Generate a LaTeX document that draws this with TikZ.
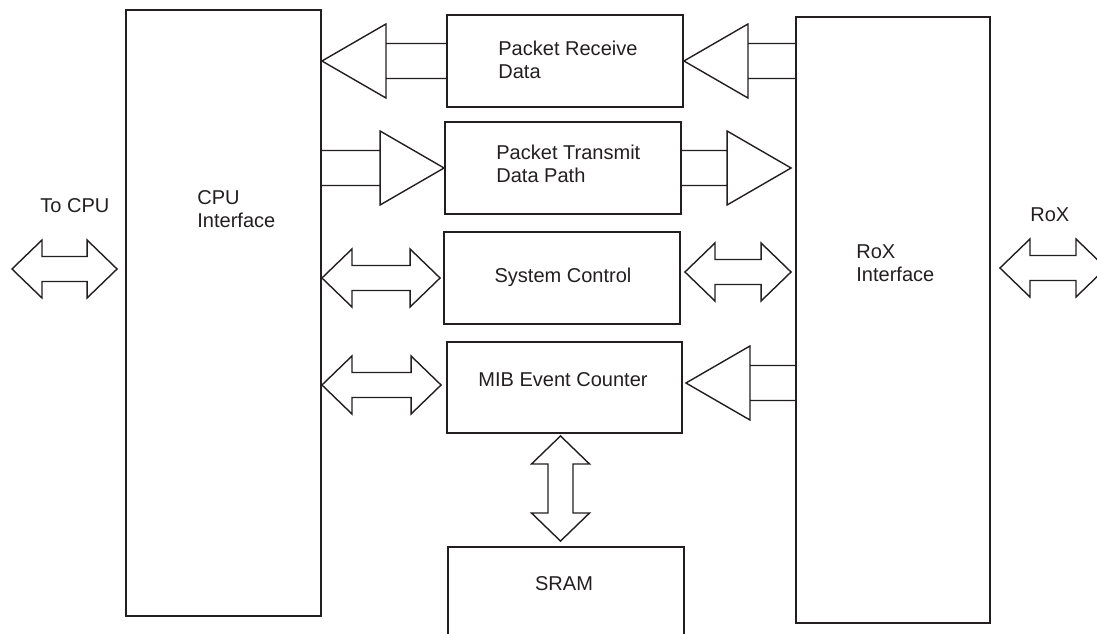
\documentclass[tikz,border=0pt]{standalone}
\usepackage{fontspec}
\setmainfont{Liberation Sans}
\usepackage{xcolor}
\definecolor{lineGray}{RGB}{35,31,32}
\usepackage{tikz}
\usetikzlibrary{positioning,calc}
\tikzstyle{blockbox}=[rectangle, draw=lineGray, line width=1.1pt, inner sep=0pt]
\tikzstyle{blocklabel}=[font=\fontsize{11.4pt}{13.1pt}\selectfont, text=lineGray, align=left, inner sep=0pt]
\tikzstyle{buffer}=[draw=lineGray, line width=0.8pt]
\tikzstyle{bus}=[draw=lineGray, line width=0.8pt]

% buffer com a ponta em #1, linhas ate a borda #2
\newcommand{\bufL}[2]{%
  \draw[buffer] (#1) -- ++(64,-37) -- ++(0,74) -- cycle
    ([shift={(64,-17.5)}]#1) -- ([shift={(0,-17.5)}]#2)
    ([shift={(64,17.5)}]#1) -- ([shift={(0,17.5)}]#2);}
\newcommand{\bufR}[2]{%
  \draw[buffer] (#1) -- ++(-64,-37) -- ++(0,74) -- cycle
    ([shift={(-64,-17.5)}]#1) -- ([shift={(0,-17.5)}]#2)
    ([shift={(-64,17.5)}]#1) -- ([shift={(0,17.5)}]#2);}

% seta dupla entre as pontas #1 e #2
\newcommand{\hbus}[2]{%
  \draw[bus] (#1) -- ([shift={(30,-29)}]#1) -- ([shift={(30,-12.5)}]#1)
    -- ([shift={(-30,-12.5)}]#2) -- ([shift={(-30,-29)}]#2) -- (#2)
    -- ([shift={(-30,29)}]#2) -- ([shift={(-30,12.5)}]#2)
    -- ([shift={(30,12.5)}]#1) -- ([shift={(30,29)}]#1) -- cycle;}
\newcommand{\vbus}[2]{%
  \draw[bus] (#1) -- ([shift={(-29,28)}]#1) -- ([shift={(-12.5,28)}]#1)
    -- ([shift={(-12.5,-28)}]#2) -- ([shift={(-29,-28)}]#2) -- (#2)
    -- ([shift={(29,-28)}]#2) -- ([shift={(12.5,-28)}]#2)
    -- ([shift={(12.5,28)}]#1) -- ([shift={(29,28)}]#1) -- cycle;}

\begin{document}
\begin{tikzpicture}[x=0.02cm, y=-0.02cm]
    \useasboundingbox (0,0) rectangle (1097,634);

    % Interfaces
    \node[blockbox, minimum width=3.9cm, minimum height=12.12cm] (cpu) at (223.5,313) {};
    \node[blockbox, minimum width=3.88cm, minimum height=12.12cm] (rox) at (893,320) {};

    % Blocos centrais
    \node[blockbox, minimum width=4.72cm, minimum height=1.84cm] (rx)   at (565,61)    {};
    \node[blockbox, minimum width=4.72cm, minimum height=1.84cm] (tx)   at (563,168)   {};
    \node[blockbox, minimum width=4.72cm, minimum height=1.84cm] (sys)  at (562,278)   {};
    \node[blockbox, minimum width=4.70cm, minimum height=1.82cm] (mib)  at (564.5,387.5) {};
    \node[blockbox, minimum width=4.72cm, minimum height=1.84cm] (sram) at (566,593)   {};

    % Textos
    \node[blocklabel, anchor=north west] (cpulbl) at (197,190) {CPU\\Interface};
    \node[blocklabel, anchor=north west] (roxlbl) at (856,244) {RoX\\Interface};
    \node[blocklabel, anchor=north west] (rxlbl)  at (498,41)  {Packet Receive\\Data};
    \node[blocklabel, anchor=north west] (txlbl)  at (496,145) {Packet Transmit\\Data Path};
    \node[blocklabel] (syslbl)  at (563,277) {System Control};
    \node[blocklabel] (miblbl)  at (563,380) {MIB Event Counter};
    \node[blocklabel] (sramlbl) at (564,584) {SRAM};
    \node[blocklabel, anchor=base west] (cpuext) at (40,213)   {To CPU};
    \node[blocklabel, anchor=base west] (roxext) at (1030,222) {RoX};

    % Pontos das setas
    \coordinate (rxL)   at (cpu.east |- rx.west);
    \coordinate (rxR)   at (rox.west |- rx.east);
    \coordinate (txL)   at (cpu.east |- tx.west);
    \coordinate (txR)   at ($(rox.west |- tx.east)+(-4,0)$);
    \coordinate (mibR1) at ($(mib.east |- 0,383)+(3,0)$);
    \coordinate (mibR2) at (rox.west |- mibR1);
    \coordinate (sysL1) at (cpu.east |- sys.west);
    \coordinate (sysL2) at ($(sys.west)+(-3,0)$);
    \coordinate (sysR1) at ($(sys.east)+(4,-6)$);
    \coordinate (sysR2) at ($(rox.west |- sysR1)+(-4,0)$);
    \coordinate (mibL1) at (cpu.east |- 0,385);
    \coordinate (mibL2) at ($(mib.west |- mibL1)+(-5,0)$);
    \coordinate (memT)  at ($(mib.south)+(-4,2)$);
    \coordinate (memB)  at ($(memT |- sram.north)+(0,-5)$);
    \coordinate (cpuBusL) at (12,269);
    \coordinate (cpuBusR) at ($(cpu.west |- cpuBusL)+(-8,0)$);
    \coordinate (roxBusL) at ($(rox.east |- 0,268)+(9,0)$);
    \coordinate (roxBusR) at (1106,268);

    % Buffers
    \bufL{rxL}{rx.west}
    \bufL{rx.east}{rxR}
    \bufR{tx.west}{txL}
    \bufR{txR}{tx.east}
    \bufL{mibR1}{mibR2}

    % Barramentos
    \hbus{cpuBusL}{cpuBusR}
    \hbus{roxBusL}{roxBusR}
    \hbus{sysL1}{sysL2}
    \hbus{sysR1}{sysR2}
    \hbus{mibL1}{mibL2}
    \vbus{memT}{memB}
\end{tikzpicture}
\end{document}
